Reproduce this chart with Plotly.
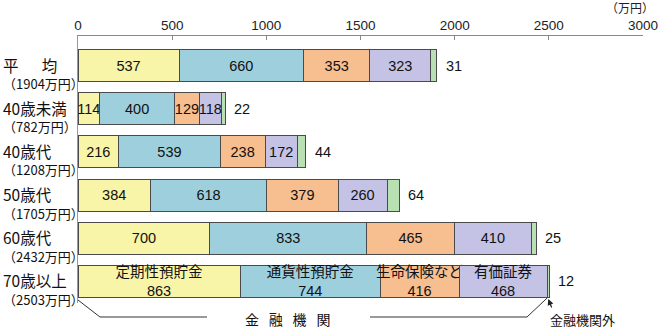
import plotly.graph_objects as go

categories = ["平\u3000\u2002均", "40歳未満", "40歳代", "50歳代", "60歳代", "70歳以上"]
totals = ["1904", "782", "1208", "1705", "2432", "2503"]
series_names = ["定期性預貯金", "通貨性預貯金", "生命保険など", "有価証券", "金融機関外"]
teiki = [537, 114, 216, 384, 700, 863]
tsuka = [660, 400, 539, 618, 833, 744]
seimei = [353, 129, 238, 379, 465, 416]
yuka = [323, 118, 172, 260, 410, 468]
gai = [31, 22, 44, 64, 25, 12]
x_ticks = [0, 500, 1000, 1500, 2000, 2500, 3000]

colors = ["#F8F4A8", "#9ECFDC", "#F7BE90", "#C4C3E5", "#B8E0B2"]
NUM_FONT = "Liberation Sans, Noto Sans CJK JP, sans-serif"
JP_FONT = "Noto Sans CJK JP, sans-serif"

W, H = 660, 336
ML, MR, MT, MB = 78, 17, 36, 33
plot_w = W - ML - MR
plot_h = H - MT - MB


def py(px):
    return (H - MB - px) / plot_h


def pxp(px):
    return (px - ML) / plot_w


fig = go.Figure()
all_series = [teiki, tsuka, seimei, yuka, gai]
last_row = len(categories) - 1
for i, (name, vals) in enumerate(zip(series_names, all_series)):
    if i < 4:
        texts = [str(v) for v in vals]
        texts[last_row] = f"{name}<br>{vals[last_row]}"
    else:
        texts = None
    fig.add_trace(go.Bar(
        y=categories, x=vals, orientation="h", name=name,
        marker=dict(color=colors[i], line=dict(color="#4a4a4a", width=1)),
        text=texts, textposition="inside" if texts else "none",
        insidetextanchor="middle", textangle=0, constraintext="none",
        insidetextfont=dict(family=NUM_FONT, size=14.5, color="#111"),
        hoverinfo="skip",
    ))

annotations = []
# values of the "outside financial institutions" segment
for c, t, v in zip(categories, zip(teiki, tsuka, seimei, yuka, gai), gai):
    total = sum(t)
    annotations.append(dict(x=total, y=c, xref="x", yref="y", text=str(v),
                            showarrow=False, xanchor="left", xshift=7,
                            font=dict(family=NUM_FONT, size=14.5, color="#111")))
# category labels
for c, tot in zip(categories, totals):
    annotations.append(dict(x=pxp(1), y=c, xref="paper", yref="y",
                            text=c, showarrow=False, xanchor="left", yanchor="middle",
                            yshift=1,
                            font=dict(family=JP_FONT, size=15.5, color="#111")))
    annotations.append(dict(x=pxp(1), y=c, xref="paper", yref="y",
                            text=f"（{tot}万円）", showarrow=False, xanchor="left",
                            yanchor="middle", yshift=-18,
                            font=dict(family=JP_FONT, size=13, color="#111")))
# unit label
annotations.append(dict(x=pxp(656), y=py(8), xref="paper", yref="paper", text="（万円）",
                        showarrow=False, xanchor="right", yanchor="middle",
                        font=dict(family=JP_FONT, size=12, color="#222")))
# bracket label
fin_end = teiki[last_row] + tsuka[last_row] + seimei[last_row] + yuka[last_row]
annotations.append(dict(x=pxp(243), y=py(319), xref="paper", yref="paper",
                        text="金\u2002\u2009融\u2002\u2009機\u2002\u2009関", showarrow=False,
                        xanchor="left", yanchor="middle",
                        font=dict(family=JP_FONT, size=14, color="#111")))
annotations.append(dict(x=pxp(548), y=py(319), xref="paper", yref="paper",
                        text="金融機関外", showarrow=False, xanchor="left", yanchor="middle",
                        font=dict(family=JP_FONT, size=13, color="#111")))
annotations.append(dict(x=fin_end + gai[last_row] / 2, y=py(299), xref="x", yref="paper",
                        text="", showarrow=True, arrowhead=2, arrowsize=1, arrowwidth=1.2,
                        arrowcolor="#222", ax=4, ay=10, standoff=0))

line = dict(color="#333", width=1)
shapes = [
    dict(type="path", xref="paper", yref="paper",
         path=f"M 0 {py(300)} L {pxp(100)} {py(317)} L {pxp(207)} {py(317)}",
         line=line),
    dict(type="path", xref="paper", yref="paper",
         path=f"M {pxp(370)} {py(317)} L {pxp(527)} {py(317)} L {fin_end / 3000} {py(298)}",
         line=line),
]

fig.update_layout(
    width=W, height=H, barmode="stack", bargap=0.26, showlegend=False,
    margin=dict(l=ML, r=MR, t=MT, b=MB),
    plot_bgcolor="white", paper_bgcolor="white",
    annotations=annotations, shapes=shapes,
    xaxis=dict(range=[0, 3000], side="top", tickvals=x_ticks, showgrid=False,
               zeroline=False, showline=True, linecolor="#888", linewidth=1,
               ticks="inside", ticklen=4, tickcolor="#888", automargin=False,
               tickfont=dict(family=NUM_FONT, size=13.5, color="#222")),
    yaxis=dict(type="category", categoryarray=categories, autorange="reversed",
               showticklabels=False, showgrid=False, zeroline=False, automargin=False,
               showline=True, linecolor="#999", linewidth=1, ticks=""),
)
fig.write_html("out.html")
